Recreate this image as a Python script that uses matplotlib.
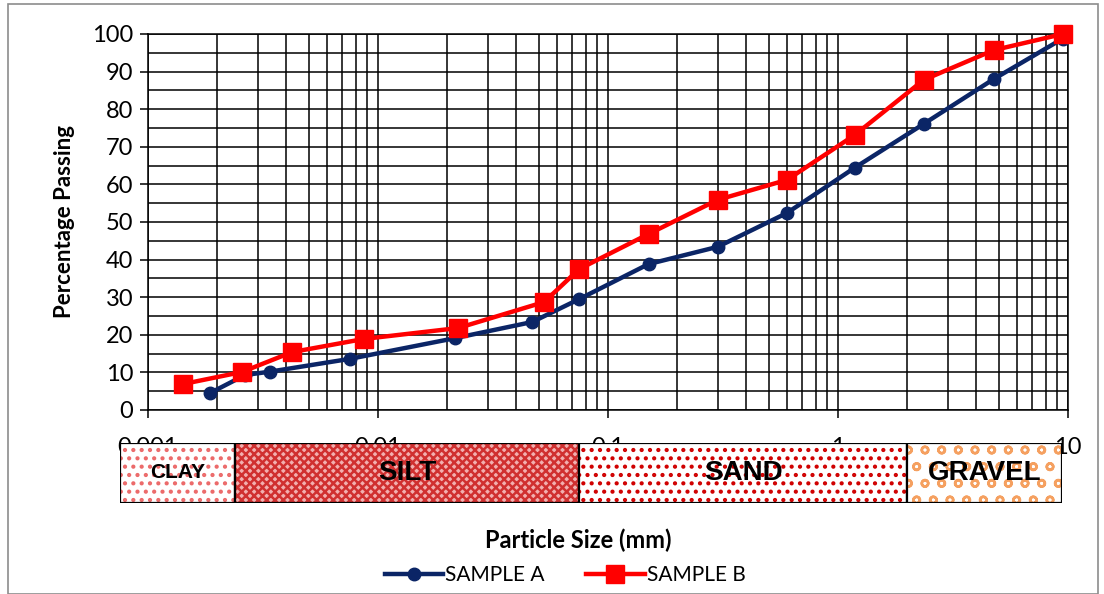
import numpy as np
import matplotlib
matplotlib.use("Agg")
import matplotlib.pyplot as plt
from matplotlib.patches import Rectangle
from matplotlib.ticker import LogLocator, MultipleLocator, FixedLocator, NullFormatter

# grain size data (mm) and percentage passing
size_a = [0.00186, 0.00264, 0.00339, 0.00755, 0.0216, 0.0468, 0.075, 0.15, 0.3, 0.6, 1.18, 2.36, 4.75, 9.5]
pass_a = [4.5, 9.3, 10.2, 13.6, 19.1, 23.4, 29.5, 38.8, 43.4, 52.4, 64.4, 76.1, 88.0, 98.8]

size_b = [0.00142, 0.00256, 0.00423, 0.00869, 0.0223, 0.0527, 0.075, 0.15, 0.3, 0.6, 1.18, 2.36, 4.75, 9.5]
pass_b = [6.9, 10.1, 15.4, 18.9, 21.8, 28.7, 37.5, 46.8, 55.9, 61.2, 73.1, 87.8, 95.7, 100.0]

# soil classification band
band_names = ["CLAY", "SILT", "SAND", "GRAVEL"]
band_edges = [0.00076, 0.0024, 0.075, 2.0, 9.4]

W, H = 1104, 594
plt.rcParams['font.family'] = ['Lato', 'DejaVu Sans']
plt.rcParams['hatch.linewidth'] = 1.8

fig = plt.figure(figsize=(W / 100, H / 100), dpi=100)
fig.patches.append(Rectangle((8 / W, 0), 1090 / W, 1 - 4 / H, transform=fig.transFigure,
                             fill=False, edgecolor='#8c8c8c', linewidth=1.2))

ax = fig.add_axes([148 / W, 1 - 410 / H, 920 / W, 376 / H])
ax.set_xscale('log')
ax.set_xlim(0.001, 10)
ax.set_ylim(0, 100)

ax.plot(size_a, pass_a, color='#0b2566', linewidth=3.2, marker='o', markersize=9,
        label='SAMPLE A', zorder=3, clip_on=False)
ax.plot(size_b, pass_b, color='#ff0000', linewidth=3.2, marker='s', markersize=13,
        label='SAMPLE B', zorder=4, clip_on=False)

ax.yaxis.set_major_locator(MultipleLocator(10))
ax.yaxis.set_minor_locator(MultipleLocator(5))
ax.xaxis.set_major_locator(FixedLocator([0.001, 0.01, 0.1, 1, 10]))
ax.set_xticklabels(['0.001', '0.01', '0.1', '1', '10'])
ax.xaxis.set_minor_locator(LogLocator(base=10, subs=np.arange(2, 10)))
ax.xaxis.set_minor_formatter(NullFormatter())
ax.grid(True, which='both', color='black', linewidth=1.1)
ax.tick_params(which='major', length=5.5, width=1.1, labelsize=17)
ax.tick_params(which='minor', length=0)
ax.tick_params(axis='x', pad=14)
ax.tick_params(axis='y', pad=5)
for s in ax.spines.values():
    s.set_linewidth(1.1)

ax.set_ylabel('Percentage Passing', fontsize=16, fontweight='bold', labelpad=12)

# classification band below the axis
bx = fig.add_axes([120 / W, 1 - 503 / H, 942 / W, 60 / H])
bx.set_xscale('log')
bx.set_xlim(band_edges[0], band_edges[-1])
bx.set_ylim(0, 1)
bx.axis('off')
styles = [
    dict(facecolor='white', edgecolor='#ec6a6a', hatch='..'),
    dict(facecolor='#f2b0b0', edgecolor='#d03030', hatch='xxxx'),
    dict(facecolor='white', edgecolor='#d00000', hatch='..'),
    dict(facecolor='white', edgecolor='#f5a060', hatch='o'),
]
sizes = [15, 20, 20, 20]
for i, name in enumerate(band_names):
    x0, x1 = band_edges[i], band_edges[i + 1]
    bx.add_patch(Rectangle((x0, 0), x1 - x0, 1, linewidth=0, **styles[i]))
    bx.add_patch(Rectangle((x0, 0), x1 - x0, 1, fill=False, edgecolor='black', linewidth=1.6))
    xc = np.sqrt(x0 * x1)
    bx.text(xc, 0.5, name, ha='center', va='center', fontsize=sizes[i], fontweight='bold',
            family='Liberation Sans', zorder=5)

fig.text(578 / W, 1 - 540 / H, 'Particle Size (mm)', ha='center', va='center',
         fontsize=17, fontweight='bold')
fig.legend(loc='center', bbox_to_anchor=(565 / W, 1 - 575 / H), ncol=2, frameon=False,
           fontsize=15, handlelength=2.8, handletextpad=0.1, columnspacing=2.0)

fig.savefig('out.png', dpi=100)
